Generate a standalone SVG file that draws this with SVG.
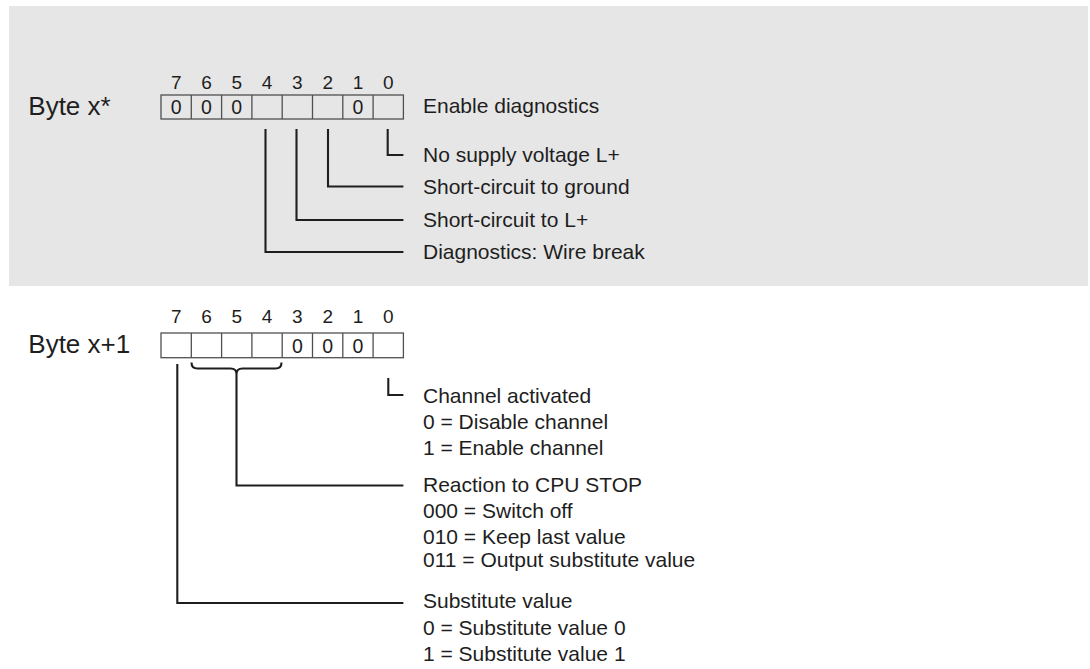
<svg xmlns="http://www.w3.org/2000/svg" width="1090" height="669" viewBox="0 0 1090 669">
<style>
text{font-family:"Liberation Sans",Arial,sans-serif;fill:#1e1e1e}
.title{font-size:26px}
.bit{font-size:19px;text-anchor:middle}
.val{font-size:19.5px;text-anchor:middle}
.lbl{font-size:21px}
.cell{fill:none;stroke:#505050;stroke-width:1.3}
.lead{fill:none;stroke:#1e1e1e;stroke-width:2.1}
</style>
<rect x="9" y="6" width="1079" height="280" fill="#e6e6e6"/>

<g id="byte-x">
<text class="title" x="28.3" y="115">Byte x*</text>
<g>
<text class="bit" x="176.2" y="88.5">7</text>
<text class="bit" x="206.5" y="88.5">6</text>
<text class="bit" x="236.8" y="88.5">5</text>
<text class="bit" x="267.1" y="88.5">4</text>
<text class="bit" x="297.4" y="88.5">3</text>
<text class="bit" x="327.7" y="88.5">2</text>
<text class="bit" x="358" y="88.5">1</text>
<text class="bit" x="388.3" y="88.5">0</text>
</g>
<rect class="cell" x="161" y="95" width="242.4" height="24"/>
<path class="cell" d="M191.3,95V119M221.6,95V119M251.9,95V119M282.2,95V119M312.5,95V119M342.8,95V119M373.1,95V119"/>
<text class="val" x="176.2" y="114.3">0</text>
<text class="val" x="206.5" y="114.3">0</text>
<text class="val" x="236.8" y="114.3">0</text>
<text class="val" x="358" y="114.3">0</text>
</g>

<g id="labels-x">
<text class="lbl" x="423" y="113">Enable diagnostics</text>
<text class="lbl" x="423" y="161.5">No supply voltage L+</text>
<text class="lbl" x="423" y="194">Short-circuit to ground</text>
<text class="lbl" x="423" y="226.5">Short-circuit to L+</text>
<text class="lbl" x="423" y="259">Diagnostics: Wire break</text>
</g>

<g id="byte-x1">
<text class="title" x="28.3" y="352.7">Byte x+1</text>
<g>
<text class="bit" x="176.2" y="322.7">7</text>
<text class="bit" x="206.5" y="322.7">6</text>
<text class="bit" x="236.8" y="322.7">5</text>
<text class="bit" x="267.1" y="322.7">4</text>
<text class="bit" x="297.4" y="322.7">3</text>
<text class="bit" x="327.7" y="322.7">2</text>
<text class="bit" x="358" y="322.7">1</text>
<text class="bit" x="388.3" y="322.7">0</text>
</g>
<rect class="cell" x="161" y="333" width="242.4" height="24.7"/>
<path class="cell" d="M191.3,333V357.7M221.6,333V357.7M251.9,333V357.7M282.2,333V357.7M312.5,333V357.7M342.8,333V357.7M373.1,333V357.7"/>
<text class="val" x="297.4" y="352.8">0</text>
<text class="val" x="327.7" y="352.8">0</text>
<text class="val" x="358" y="352.8">0</text>
</g>

<g id="labels-x1">
<text class="lbl" x="423" y="402.5">Channel activated</text>
<text class="lbl" x="423" y="428.7">0 = Disable channel</text>
<text class="lbl" x="423" y="454.7">1 = Enable channel</text>
<text class="lbl" x="423" y="492">Reaction to CPU STOP</text>
<text class="lbl" x="423" y="517.5">000 = Switch off</text>
<text class="lbl" x="423" y="544.2">010 = Keep last value</text>
<text class="lbl" x="423" y="567.2">011 = Output substitute value</text>
<text class="lbl" x="423" y="608.3">Substitute value</text>
<text class="lbl" x="423" y="635">0 = Substitute value 0</text>
<text class="lbl" x="423" y="660.5">1 = Substitute value 1</text>
</g>

<g id="connectors">
<path class="lead" d="M387.7,129V155H403.4"/>
<path class="lead" d="M328,129V186.5H403.4"/>
<path class="lead" d="M296.5,129V220H403.4"/>
<path class="lead" d="M265.5,129V252H403.4"/>
<path class="lead" d="M388.3,378V395H403.4"/>
<path class="lead" stroke-width="1.6" d="M191.5,362.5Q191.5,368.5 197.5,368.5H230.5Q236.5,368.5 236.5,374Q236.5,368.5 242.5,368.5H275.5Q281.5,368.5 281.5,362.5"/>
<path class="lead" d="M236.5,374V485.5H403.4"/>
<path class="lead" d="M177.3,364V603H403.4"/>
</g>
</svg>
